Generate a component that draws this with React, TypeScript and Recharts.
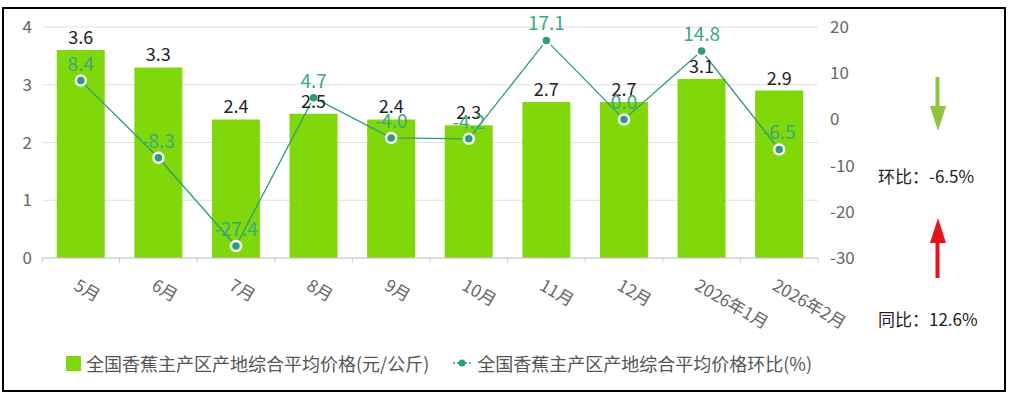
import { ComposedChart, Bar, Line, XAxis, YAxis, CartesianGrid, LabelList } from "recharts";

const months = ["5月", "6月", "7月", "8月", "9月", "10月", "11月", "12月", "2026年1月", "2026年2月"];
const price = [3.6, 3.3, 2.4, 2.5, 2.4, 2.3, 2.7, 2.7, 3.1, 2.9];
const mom = [8.4, -8.3, -27.4, 4.7, -4.0, -4.2, 17.1, 0.0, 14.8, -6.5];
const leftTicks = [0, 1, 2, 3, 4];
const rightTicks = [-30, -20, -10, 0, 10, 20];

const priceName = "全国香蕉主产区产地综合平均价格(元/公斤)";
const momName = "全国香蕉主产区产地综合平均价格环比(%)";
const momText = "环比：-6.5%";
const yoyText = "同比：12.6%";

const data = months.map((m, i) => ({ month: m, price: price[i], mom: mom[i] }));

const FONT = "'Noto Sans CJK SC', 'Noto Sans', sans-serif";
const BAR = "#80d80a";
const LINE = "#2f9c78";
const LINE_LABEL = "#3aa880";
const W = 1010;
const H = 395;
const PLOT_LEFT = 42;
const PLOT_RIGHT = 818;
const BAND = (PLOT_RIGHT - PLOT_LEFT) / months.length;

function XTick(props: any) {
  const { x, y, payload, index } = props;
  return (
    <g>
      <line x1={x - BAND / 2} y1={y} x2={x - BAND / 2} y2={y + 5} stroke="#ccc" />
      {index === months.length - 1 && (
        <line x1={x + BAND / 2} y1={y} x2={x + BAND / 2} y2={y + 5} stroke="#ccc" />
      )}
      <text
        transform={`translate(${x - 8},${y + 31}) rotate(30)`}
        textAnchor="start"
        fontSize={17}
        fill="#666"
        fontFamily={FONT}
      >
        {payload.value}
      </text>
    </g>
  );
}

export default function App() {
  return (
    <div style={{ position: "absolute", left: 0, top: 0, width: W, height: H, background: "#fff", fontFamily: FONT }}>
      <div
        style={{
          position: "absolute",
          left: 2,
          top: 7,
          width: 1000,
          height: 381,
          border: "2px solid #000",
        }}
      />
      <div style={{ position: "absolute", left: 0, top: 0 }}>
        <ComposedChart width={W} height={H} data={data} margin={{ top: 27, right: 142, bottom: 0, left: 0 }} barCategoryGap="19%">
          <CartesianGrid yAxisId="left" vertical={false} stroke="#e0e0e0" />
          <XAxis
            dataKey="month"
            height={137}
            tickSize={0}
            tickMargin={0}
            axisLine={{ stroke: "#ccc" }}
            tickLine={false}
            tick={<XTick />}
            interval={0}
          />
          <YAxis
            yAxisId="left"
            width={42}
            domain={[0, 4]}
            ticks={leftTicks}
            axisLine={false}
            tickLine={false}
            tickSize={0}
            tickMargin={10}
            tick={{ fontSize: 17, fill: "#666", fontFamily: FONT }}
          />
          <YAxis
            yAxisId="right"
            orientation="right"
            width={50}
            domain={[-30, 20]}
            ticks={rightTicks}
            axisLine={false}
            tickLine={false}
            tickSize={0}
            tickMargin={12}
            tick={{ fontSize: 17, fill: "#666", fontFamily: FONT }}
          />
          <Bar yAxisId="left" dataKey="price" fill={BAR} isAnimationActive={false}>
            <LabelList
              dataKey="price"
              position="top"
              offset={6}
              formatter={(v: any) => Number(v).toFixed(1)}
              style={{ fontSize: 18, fill: "#222", fontFamily: FONT }}
            />
          </Bar>
          <Line
            yAxisId="right"
            dataKey="mom"
            stroke={LINE}
            strokeWidth={1.3}
            dot={{ r: 5, fill: LINE, stroke: "#fff", strokeWidth: 2.5 }}
            isAnimationActive={false}
          >
            <LabelList
              dataKey="mom"
              position="top"
              offset={10}
              formatter={(v: any) => Number(v).toFixed(1)}
              style={{ fontSize: 19, fill: LINE_LABEL, fontFamily: FONT }}
            />
          </Line>
        </ComposedChart>
      </div>

      {/* legend */}
      <div style={{ position: "absolute", left: 66, top: 350, display: "flex", alignItems: "center", fontSize: 18, color: "#555", whiteSpace: "nowrap" }}>
        <span style={{ display: "inline-block", width: 15, height: 15, background: BAR, marginRight: 5 }} />
        <span>{priceName}</span>
        <svg width={18} height={14} style={{ marginLeft: 24, marginRight: 6 }}>
          <line x1={0} y1={7} x2={18} y2={7} stroke={LINE} strokeWidth={1.5} strokeDasharray="2 2" />
          <circle cx={9} cy={7} r={3.5} fill={LINE} />
        </svg>
        <span>{momName}</span>
      </div>

      {/* side panel */}
      <svg style={{ position: "absolute", left: 920, top: 70 }} width={36} height={220}>
        <rect x={15.5} y={7} width={4} height={38} fill="#8cc63f" />
        <polygon points="10,36 26,36 18,61" fill="#8cc63f" />
        <polygon points="18,148 10,173 26,173" fill="#e8121a" />
        <rect x={15.5} y={170} width={4} height={38} fill="#e8121a" />
      </svg>
      <div style={{ position: "absolute", left: 878, top: 163, fontSize: 17, color: "#222", whiteSpace: "nowrap" }}>{momText}</div>
      <div style={{ position: "absolute", left: 878, top: 306, fontSize: 17, color: "#222", whiteSpace: "nowrap" }}>{yoyText}</div>
    </div>
  );
}
